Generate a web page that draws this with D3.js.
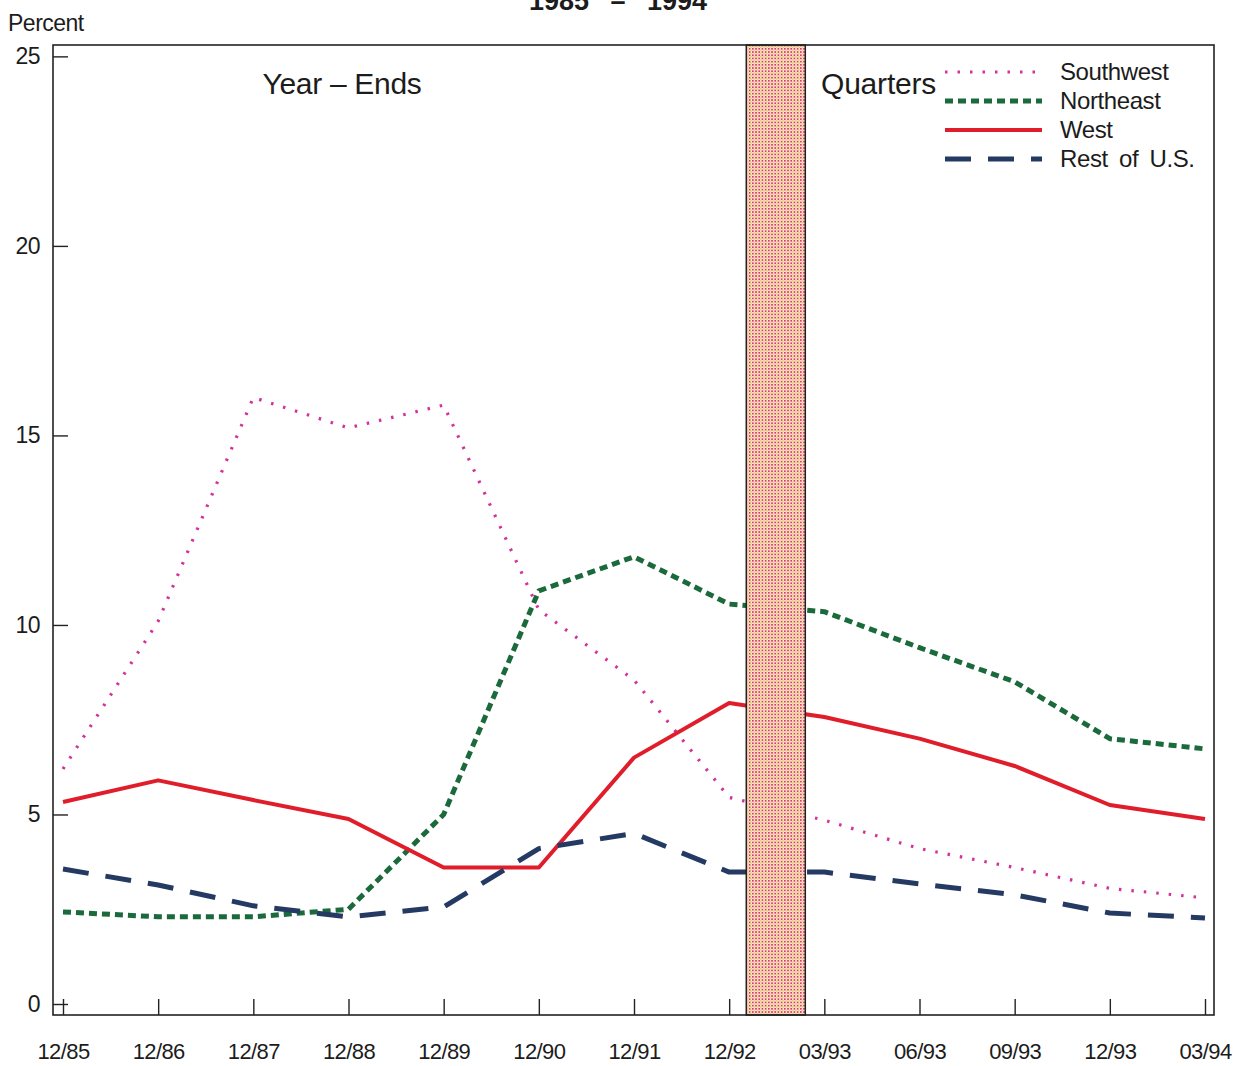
<!DOCTYPE html>
<html>
<head>
<meta charset="utf-8">
<script src="https://cdnjs.cloudflare.com/ajax/libs/d3/7.8.5/d3.min.js"></script>
<style>
  body { margin: 0; background: #fff; overflow: hidden; }
  text { font-family: "Liberation Sans", Arial, sans-serif; fill: #1c1c1c; }
</style>
</head>
<body>
<div class="chart"></div>
<script>
var svgWidth = 1238;
var svgHeight = 1066;

// categories along the bottom
var periods = ["12/85", "12/86", "12/87", "12/88", "12/89", "12/90", "12/91",
               "12/92", "03/93", "06/93", "09/93", "12/93", "03/94"];

// series values (percent)
var southwest = [6.2, 10.1, 16.0, 15.2, 15.8, 10.4, 8.55, 5.45, 4.85, 4.1, 3.6, 3.05, 2.8];
var northeast = [2.43, 2.3, 2.3, 2.5, 5.0, 10.9, 11.8, 10.55, 10.35, 9.4, 8.5, 7.0, 6.73];
var west      = [5.33, 5.9, 5.38, 4.88, 3.6, 3.6, 6.5, 7.94, 7.57, 7.0, 6.28, 5.25, 4.88];
var restUS    = [3.56, 3.14, 2.59, 2.3, 2.56, 4.1, 4.5, 3.48, 3.48, 3.17, 2.88, 2.4, 2.27];

var yTicks = [0, 5, 10, 15, 20, 25];

// gap between year-ends and quarters (in category-index units)
var breakBand = [7.18, 7.8];

var seriesNames = ["Southwest", "Northeast", "West", "Rest of U.S."];

var styles = {
  "Southwest":    { color: "#d2329a", width: 3.2, dash: "2.5,10" },
  "Northeast":    { color: "#1b6a3c", width: 5,   dash: "8,5" },
  "West":         { color: "#e01e2b", width: 4,   dash: null },
  "Rest of U.S.": { color: "#243a63", width: 5,   dash: "26,17" }
};

var frame = { left: 53, right: 1214, top: 45, bottom: 1015 };

var svg = d3.select(".chart")
  .append("svg")
  .style("display", "block")
  .attr("width", svgWidth)
  .attr("height", svgHeight);

// dotted screen for the break band
var defs = svg.append("defs");
var pat = defs.append("pattern")
  .attr("id", "hatch")
  .attr("patternUnits", "userSpaceOnUse")
  .attr("width", 3.2)
  .attr("height", 3.2);
pat.append("rect").attr("width", 3.2).attr("height", 3.2).attr("fill", "#faf0cf");
pat.append("rect").attr("x", 0).attr("y", 0).attr("width", 1.7).attr("height", 1.7).attr("fill", "#dc3470");
pat.append("rect").attr("x", 1.6).attr("y", 1.6).attr("width", 1.6).attr("height", 1.6).attr("fill", "#efcf86");

var x = d3.scaleLinear()
  .domain([0, periods.length - 1])
  .range([63, 1205]);

var y = d3.scaleLinear()
  .domain([-0.29, 25.3])
  .range([frame.bottom, frame.top]);

// title (cut off at the top edge, as in the source)
svg.append("text")
  .attr("x", 618)
  .attr("y", 10)
  .attr("text-anchor", "middle")
  .style("font-size", "27px")
  .style("font-weight", "bold")
  .style("word-spacing", "14px")
  .text("1985 \u2013 1994");

svg.append("text")
  .attr("x", 8)
  .attr("y", 31)
  .style("font-size", "23px")
  .style("letter-spacing", "-0.5px")
  .text("Percent");

// lines
var line = d3.line()
  .x((d, i) => x(i))
  .y(d => y(d));

var allSeries = [southwest, northeast, west, restUS];

allSeries.forEach(function(vals, k) {
  var st = styles[seriesNames[k]];
  svg.append("path")
    .datum(vals)
    .attr("d", line)
    .attr("fill", "none")
    .attr("stroke", st.color)
    .attr("stroke-width", st.width)
    .attr("stroke-dasharray", st.dash)
    .attr("stroke-linejoin", "round");
});

// break band drawn over the lines
svg.append("rect")
  .attr("x", x(breakBand[0]))
  .attr("y", frame.top)
  .attr("width", x(breakBand[1]) - x(breakBand[0]))
  .attr("height", frame.bottom - frame.top)
  .attr("fill", "url(#hatch)")
  .attr("stroke", "#222")
  .attr("stroke-width", 1.5);

// frame
svg.append("rect")
  .attr("x", frame.left)
  .attr("y", frame.top)
  .attr("width", frame.right - frame.left)
  .attr("height", frame.bottom - frame.top)
  .attr("fill", "none")
  .attr("stroke", "#222")
  .attr("stroke-width", 1.6);

// x axis
var bottomAxis = d3.axisBottom(x)
  .tickValues(d3.range(periods.length))
  .tickFormat(i => periods[i])
  .tickSize(-16)
  .tickPadding(28);

var xAxis = svg.append("g")
  .attr("transform", `translate(0, ${frame.bottom})`)
  .call(bottomAxis);
xAxis.select(".domain").remove();
xAxis.selectAll("line").attr("stroke", "#222").attr("stroke-width", 1.4);
xAxis.selectAll("text")
  .style("font-size", "22px")
  .style("letter-spacing", "-0.6px")
  .attr("fill", "#1c1c1c");

// y axis
var leftAxis = d3.axisLeft(y)
  .tickValues(yTicks)
  .tickSize(-15)
  .tickPadding(13);

var yAxis = svg.append("g")
  .attr("transform", `translate(${frame.left}, 0)`)
  .call(leftAxis);
yAxis.select(".domain").remove();
yAxis.selectAll("line").attr("stroke", "#222").attr("stroke-width", 1.4);
yAxis.selectAll("text")
  .style("font-size", "23px")
  .style("letter-spacing", "-0.6px")
  .attr("fill", "#1c1c1c");

// section labels
svg.append("text")
  .attr("x", 342)
  .attr("y", 94)
  .attr("text-anchor", "middle")
  .style("font-size", "30px")
  .style("letter-spacing", "-0.3px")
  .text("Year \u2013 Ends");

svg.append("text")
  .attr("x", 821)
  .attr("y", 94)
  .style("font-size", "30px")
  .style("letter-spacing", "-0.2px")
  .text("Quarters");

// legend
var legend = svg.append("g");
var legendYs = [72, 101, 130, 159];
seriesNames.forEach(function(name, k) {
  var st = styles[name];
  legend.append("line")
    .attr("x1", 945)
    .attr("x2", 1042)
    .attr("y1", legendYs[k])
    .attr("y2", legendYs[k])
    .attr("stroke", st.color)
    .attr("stroke-width", st.width)
    .attr("stroke-dasharray", st.dash);
  legend.append("text")
    .attr("x", 1060)
    .attr("y", legendYs[k] + 8)
    .style("font-size", "24px")
    .style("letter-spacing", "-0.4px")
    .style("word-spacing", "5px")
    .text(name);
});
</script>
</body>
</html>
